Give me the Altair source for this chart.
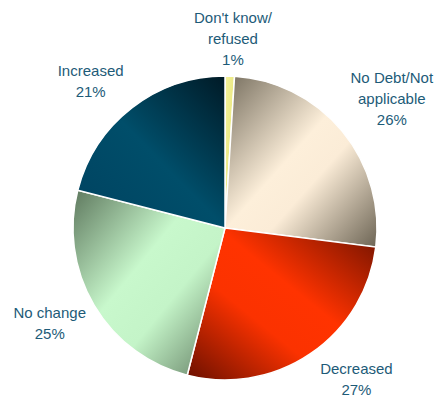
import altair as alt
import pandas as pd

categories = ["Don't know/refused", "No Debt/Not applicable", "Decreased", "No change", "Increased"]
values = [1, 26, 27, 25, 21]
labels = ["Don't know/\nrefused\n1%", "No Debt/Not\napplicable\n26%", "Decreased\n27%", "No change\n25%", "Increased\n21%"]

df = pd.DataFrame({"category": categories, "value": values, "label": labels, "order": list(range(len(categories)))})

CX, CY, R = 225, 228, 152
TEXT_COLOR = "#1d5b78"
LH = 21

def grad(x1, y1, x2, y2, stops):
    return alt.LinearGradient(
        gradient="linear", x1=x1, y1=y1, x2=x2, y2=y2,
        stops=[alt.GradientStop(offset=o, color=c) for o, c in stops],
    )

styles = {
    "Don't know/refused": dict(
        fill=grad(0, 0, 1, 1, [(0, "#f4f29a"), (1, "#e2e070")]),
        r=189, dx=2, dy=-LH),
    "No Debt/Not applicable": dict(
        fill=grad(0, 0, 1, 1, [(0, "#766e5e"), (0.45, "#fdefda"), (0.6, "#fbecd7"), (1, "#6c6454")]),
        r=210, dx=5, dy=5 - LH),
    "Decreased": dict(
        fill=grad(1, 0, 0, 1, [(0, "#6e1200"), (0.42, "#ff3300"), (0.62, "#fb3200"), (1, "#6a1000")]),
        r=200, dx=19, dy=-14 - LH / 2),
    "No change": dict(
        fill=grad(0, 0, 1, 1, [(0, "#5e785e"), (0.42, "#c8f8cc"), (0.62, "#c4f4c8"), (1, "#5e785e")]),
        r=199, dx=-4, dy=-6 - LH / 2),
    "Increased": dict(
        fill=grad(1, 0, 0, 1, [(0, "#001a26"), (0.5, "#004e6a"), (1, "#004260")]),
        r=198, dx=-13, dy=10 - LH / 2),
}

base = (
    alt.Chart(df)
    .transform_window(cum="sum(value)", sort=[alt.SortField("order")], frame=[None, 0])
    .transform_calculate(start="datum.cum - datum.value", mid="datum.cum - datum.value / 2")
)

theta_scale = alt.Scale(domain=[0, 100], range=[0, 6.283185307179586])

layers = []
for cat in categories:
    s = styles[cat]
    sub = base.transform_filter(alt.datum.category == cat)
    arc = sub.mark_arc(
        x=CX, y=CY, radius=R, fill=s["fill"], stroke="white", strokeWidth=1.5
    ).encode(
        theta=alt.Theta("start:Q", scale=theta_scale),
        theta2="cum:Q",
    )
    layers.append(arc)

for cat in categories:
    s = styles[cat]
    sub = base.transform_filter(alt.datum.category == cat)
    txt = sub.mark_text(
        x=CX, y=CY, radius=s["r"], dx=s["dx"], dy=s["dy"],
        lineBreak="\n", font="Liberation Sans", fontSize=15, color=TEXT_COLOR,
        align="center", baseline="middle", lineHeight=LH,
    ).encode(
        theta=alt.Theta("mid:Q", scale=theta_scale),
        text="label:N",
    )
    layers.append(txt)

chart = (
    alt.layer(*layers)
    .properties(width=438, height=396, padding=0, autosize=alt.AutoSizeParams(type="none"))
    .configure_view(stroke=None)
    .configure(background="white")
)

chart.save("out.html", embed_options={"renderer": "svg", "actions": False})
